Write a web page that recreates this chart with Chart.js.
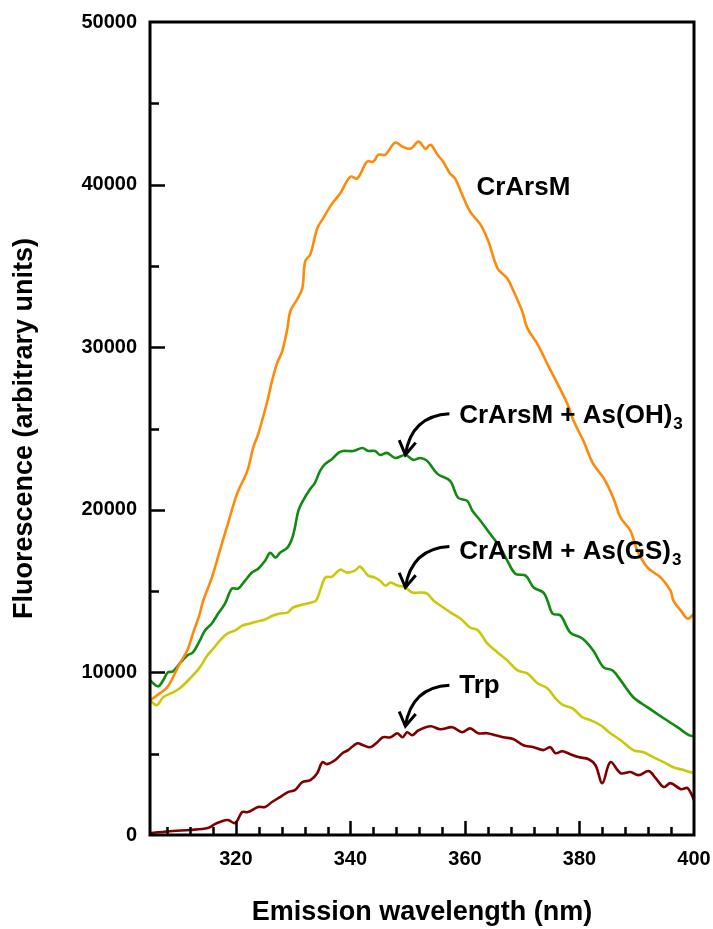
<!DOCTYPE html>
<html>
<head>
<meta charset="utf-8">
<script src="https://cdn.jsdelivr.net/npm/chart.js@4.4.1/dist/chart.umd.min.js"></script>
<style>
  html, body { margin: 0; padding: 0; background: #fff; }
  #wrap { width: 713px; height: 929px; }
</style>
</head>
<body>
<div id="wrap"><canvas id="c" width="713" height="929"></canvas></div>
<script>
// emission spectra, [wavelength nm, fluorescence]
var crArsM = [
  [305.0, 8280], [306.7, 8710], [308.0, 9080], [309.0, 9690], [310.2, 10550], [311.5, 11350],
  [312.5, 12390], [313.7, 13620], [314.3, 14420], [315.8, 15830], [317.2, 17490], [318.6, 19140],
  [320.2, 20980], [322.0, 22390], [323.0, 23800], [323.9, 24660], [325.5, 26690], [326.3, 27910],
  [327.2, 29020], [328.1, 29760], [329.0, 31170], [329.5, 32210], [330.7, 32950], [331.6, 33620],
  [332.1, 35280], [333.0, 35710], [334.2, 37300], [335.2, 37910], [336.8, 38830], [338.2, 39450],
  [340.0, 40490], [341.2, 40370], [342.9, 41410], [344.0, 41410], [344.9, 41840], [346.1, 41840],
  [347.8, 42580], [349.1, 42330], [350.5, 42210], [351.9, 42640], [353.1, 42210], [354.0, 42450],
  [355.2, 41840], [356.2, 41410], [357.4, 40680], [358.3, 40370], [359.5, 39390], [360.9, 38340],
  [362.7, 37550], [364.1, 36500], [365.7, 34850], [367.4, 34230], [368.5, 33440], [370.0, 32210],
  [370.9, 31170], [372.7, 30180], [374.4, 28960], [376.2, 27730], [377.9, 26500], [379.0, 25460],
  [380.7, 24230], [382.4, 22820], [384.2, 21960], [385.9, 20740], [387.2, 19510], [388.9, 18710],
  [390.1, 17490], [391.9, 16440], [394.2, 15830], [395.9, 15030], [396.4, 14420], [397.7, 13800],
  [398.9, 13310], [400.0, 13620]
];
var crArsMOH = [
  [305.0, 9510], [306.4, 9140], [307.3, 9510], [308.1, 10000], [309.0, 10060], [310.2, 10550],
  [311.5, 11040], [312.5, 11230], [313.7, 11960], [314.6, 12580], [315.8, 13010], [316.9, 13620],
  [318.1, 14230], [319.3, 15150], [320.4, 15150], [321.6, 15640], [322.8, 16140], [323.9, 16380],
  [325.1, 16870], [326.0, 17360], [326.9, 17060], [327.7, 17360], [329.0, 17670], [329.8, 18220],
  [330.3, 18900], [330.9, 19940], [331.7, 20550], [333.0, 21290], [333.8, 21660], [334.7, 22390],
  [335.6, 22820], [336.8, 23130], [337.9, 23500], [338.7, 23620], [340.5, 23620], [342.1, 23800],
  [343.1, 23620], [344.3, 23620], [345.2, 23370], [346.4, 23500], [347.8, 23190], [349.6, 23370],
  [351.0, 23070], [352.2, 23190], [353.4, 23010], [355.2, 22210], [357.4, 21780], [358.8, 20740],
  [360.4, 20550], [361.3, 19940], [362.7, 19330], [364.4, 18530], [366.2, 17670], [367.4, 16870],
  [368.8, 16070], [370.6, 15950], [372.0, 15220], [373.7, 14910], [374.4, 14420], [375.3, 13620],
  [376.7, 13500], [378.4, 12450], [380.5, 12090], [382.4, 11350], [384.2, 10310], [385.8, 10120],
  [387.2, 9510], [389.4, 8470], [391.9, 7850], [394.7, 7180], [397.1, 6630], [399.1, 6140],
  [400.0, 6070]
];
var crArsMGS = [
  [305.0, 8280], [306.2, 7980], [307.3, 8470], [309.0, 8770], [310.2, 9020], [312.0, 9630],
  [313.7, 10310], [315.0, 11040], [315.8, 11350], [317.2, 11960], [318.5, 12390], [319.9, 12580],
  [321.1, 12880], [322.5, 13010], [323.7, 13130], [325.1, 13250], [326.5, 13500], [327.7, 13620],
  [329.0, 13680], [330.0, 13990], [331.7, 14170], [333.0, 14290], [334.0, 14420], [334.7, 15030],
  [335.6, 15830], [336.8, 15890], [338.2, 16320], [339.4, 16140], [340.8, 16260], [341.7, 16500],
  [343.1, 15950], [344.3, 15830], [345.2, 15640], [346.1, 15340], [347.0, 15520], [348.2, 15340],
  [349.6, 15220], [350.8, 14910], [352.2, 14910], [353.4, 14850], [354.5, 14420], [356.2, 13990],
  [357.8, 13620], [359.2, 13310], [360.9, 12760], [362.3, 12580], [363.9, 11780], [365.7, 11230],
  [367.4, 10740], [369.2, 10120], [370.9, 9940], [372.7, 9330], [374.4, 9020], [375.8, 8410],
  [377.2, 7980], [378.8, 7790], [380.5, 7240], [381.9, 7060], [383.7, 6750], [385.4, 6260],
  [387.2, 5830], [389.4, 5220], [391.2, 5090], [392.9, 4790], [394.7, 4480], [396.4, 4170],
  [398.2, 3990], [400.0, 3800]
];
var trp = [
  [305.0, 120], [309.0, 250], [312.0, 310], [315.1, 430], [316.4, 680], [317.2, 800],
  [318.6, 920], [319.9, 740], [321.1, 1410], [322.1, 1410], [323.9, 1720], [325.1, 1720],
  [326.3, 2030], [327.7, 2330], [329.1, 2640], [330.3, 2760], [331.6, 3250], [333.0, 3370],
  [334.2, 3800], [335.1, 4480], [335.9, 4360], [337.3, 4600], [338.6, 5030], [339.6, 5220],
  [341.2, 5640], [342.2, 5520], [343.5, 5400], [344.7, 5710], [345.7, 6010], [347.0, 6010],
  [348.2, 6260], [349.1, 6010], [349.9, 6320], [350.8, 6140], [351.9, 6440], [354.0, 6690],
  [355.7, 6500], [357.8, 6630], [359.5, 6320], [360.9, 6560], [362.3, 6260], [363.9, 6260],
  [365.3, 6140], [366.7, 6010], [368.5, 5890], [370.2, 5520], [372.0, 5400], [373.7, 5220],
  [374.9, 5400], [375.8, 5030], [377.0, 5150], [378.4, 4970], [379.8, 4790], [381.6, 4660],
  [382.8, 4290], [384.0, 3190], [385.4, 4480], [387.2, 3800], [388.9, 3870], [390.3, 3680],
  [392.1, 3930], [393.3, 3500], [394.7, 2950], [395.9, 3190], [397.7, 2820], [398.9, 2880],
  [400.0, 2150]
];

var xTickLabels = [320, 340, 360, 380, 400];
var yTickLabels = [0, 10000, 20000, 30000, 40000, 50000];

var FONT = "'Liberation Sans', Arial, sans-serif";

// curve labels: text, subscript, where the text starts (data units), arrow tip (data units)
var notes = [
  { text: 'CrArsM', sub: '', at: [362, 39390], tip: null },
  { text: 'CrArsM + As(OH)', sub: '3', at: [359.0, 25330], tip: [349.6, 23380] },
  { text: 'CrArsM + As(GS)', sub: '3', at: [359.0, 17000], tip: [349.6, 15220] },
  { text: 'Trp', sub: '', at: [359.0, 8710], tip: [349.6, 6690] }
];

function pts(arr) {
  return arr.map(function (p) { return { x: p[0], y: p[1] }; });
}

function line(data, color) {
  return {
    data: pts(data),
    borderColor: color,
    borderWidth: 2.6,
    pointRadius: 0,
    tension: 0.35,
    fill: false,
    clip: 0
  };
}

function drawArrow(ctx, tx, ty) {
  var sx = tx + 44, sy = ty - 41;
  var cx = tx + 6, cy = sy + 2;
  ctx.beginPath();
  ctx.moveTo(sx, sy);
  ctx.quadraticCurveTo(cx, cy, tx, ty);
  ctx.stroke();
  // open arrow head
  var ang = Math.atan2(ty - cy, tx - cx);
  var len = 16, spread = 0.55;
  ctx.beginPath();
  ctx.moveTo(tx - len * Math.cos(ang - spread), ty - len * Math.sin(ang - spread));
  ctx.lineTo(tx, ty);
  ctx.lineTo(tx - len * Math.cos(ang + spread), ty - len * Math.sin(ang + spread));
  ctx.stroke();
}

var decor = {
  id: 'decor',
  afterDatasetsDraw: function (chart) {
    var ctx = chart.ctx, a = chart.chartArea;
    var x = chart.scales.x, y = chart.scales.y;
    ctx.save();
    ctx.strokeStyle = '#000';
    ctx.fillStyle = '#000';

    // inside ticks
    ctx.lineWidth = 2.5;
    ctx.beginPath();
    for (var v = 308; v < 400; v += 4) {
      var px = Math.round(x.getPixelForValue(v)) + 0.5;
      var len = v % 20 === 0 ? 14 : 8;
      ctx.moveTo(px, a.bottom);
      ctx.lineTo(px, a.bottom - len);
    }
    for (var w = 5000; w < 50000; w += 5000) {
      var py = Math.round(y.getPixelForValue(w)) + 0.5;
      var l2 = w % 10000 === 0 ? 15 : 9;
      ctx.moveTo(a.left, py);
      ctx.lineTo(a.left + l2, py);
    }
    ctx.stroke();

    // frame
    ctx.lineWidth = 3;
    ctx.strokeRect(a.left, a.top, a.right - a.left, a.bottom - a.top);

    // labels and arrows
    ctx.textBaseline = 'alphabetic';
    ctx.textAlign = 'left';
    notes.forEach(function (n) {
      var lx = x.getPixelForValue(n.at[0]);
      var ly = y.getPixelForValue(n.at[1]);
      ctx.font = 'bold 26px ' + FONT;
      ctx.fillText(n.text, lx, ly);
      if (n.sub) {
        var tw = ctx.measureText(n.text).width;
        ctx.font = 'bold 17px ' + FONT;
        ctx.fillText(n.sub, lx + tw + 1, ly + 6);
      }
      if (n.tip) {
        ctx.lineWidth = 3;
        drawArrow(ctx, x.getPixelForValue(n.tip[0]), y.getPixelForValue(n.tip[1]));
      }
    });
    ctx.restore();
  }
};

new Chart(document.getElementById('c'), {
  type: 'line',
  data: {
    datasets: [
      line(crArsM, '#ff8a0a'),
      line(crArsMOH, '#108a10'),
      line(crArsMGS, '#c9c90a'),
      line(trp, '#800000')
    ]
  },
  options: {
    responsive: false,
    animation: false,
    layout: { padding: { top: 22, right: 19, left: 0, bottom: 0 } },
    plugins: { legend: { display: false }, tooltip: { enabled: false } },
    scales: {
      x: {
        type: 'linear',
        min: 305,
        max: 400,
        afterBuildTicks: function (s) {
          s.ticks = xTickLabels.map(function (v) { return { value: v }; });
        },
        afterFit: function (s) {
          s.height = 94;
          s.paddingLeft = 0;
          s.paddingRight = 0;
        },
        grid: { display: false, drawTicks: false },
        border: { display: false },
        ticks: {
          color: '#000',
          padding: 12,
          maxRotation: 0,
          font: { family: FONT, size: 20, weight: 'bold' }
        },
        title: {
          display: true,
          text: 'Emission wavelength (nm)',
          color: '#000',
          padding: { top: 0, bottom: 0 },
          font: { family: FONT, size: 27, weight: 'bold' }
        }
      },
      y: {
        min: 0,
        max: 50000,
        afterBuildTicks: function (s) {
          s.ticks = yTickLabels.map(function (v) { return { value: v }; });
        },
        afterFit: function (s) {
          s.width = 150;
          s.paddingTop = 0;
          s.paddingBottom = 0;
        },
        grid: { display: false, drawTicks: false },
        border: { display: false },
        ticks: {
          color: '#000',
          padding: 13,
          callback: function (v) { return String(v); },
          font: { family: FONT, size: 20, weight: 'bold' }
        },
        title: {
          display: true,
          text: 'Fluorescence (arbitrary units)',
          color: '#000',
          padding: { top: 8, bottom: 0 },
          font: { family: FONT, size: 27, weight: 'bold' }
        }
      }
    }
  },
  plugins: [decor]
});
</script>
</body>
</html>
